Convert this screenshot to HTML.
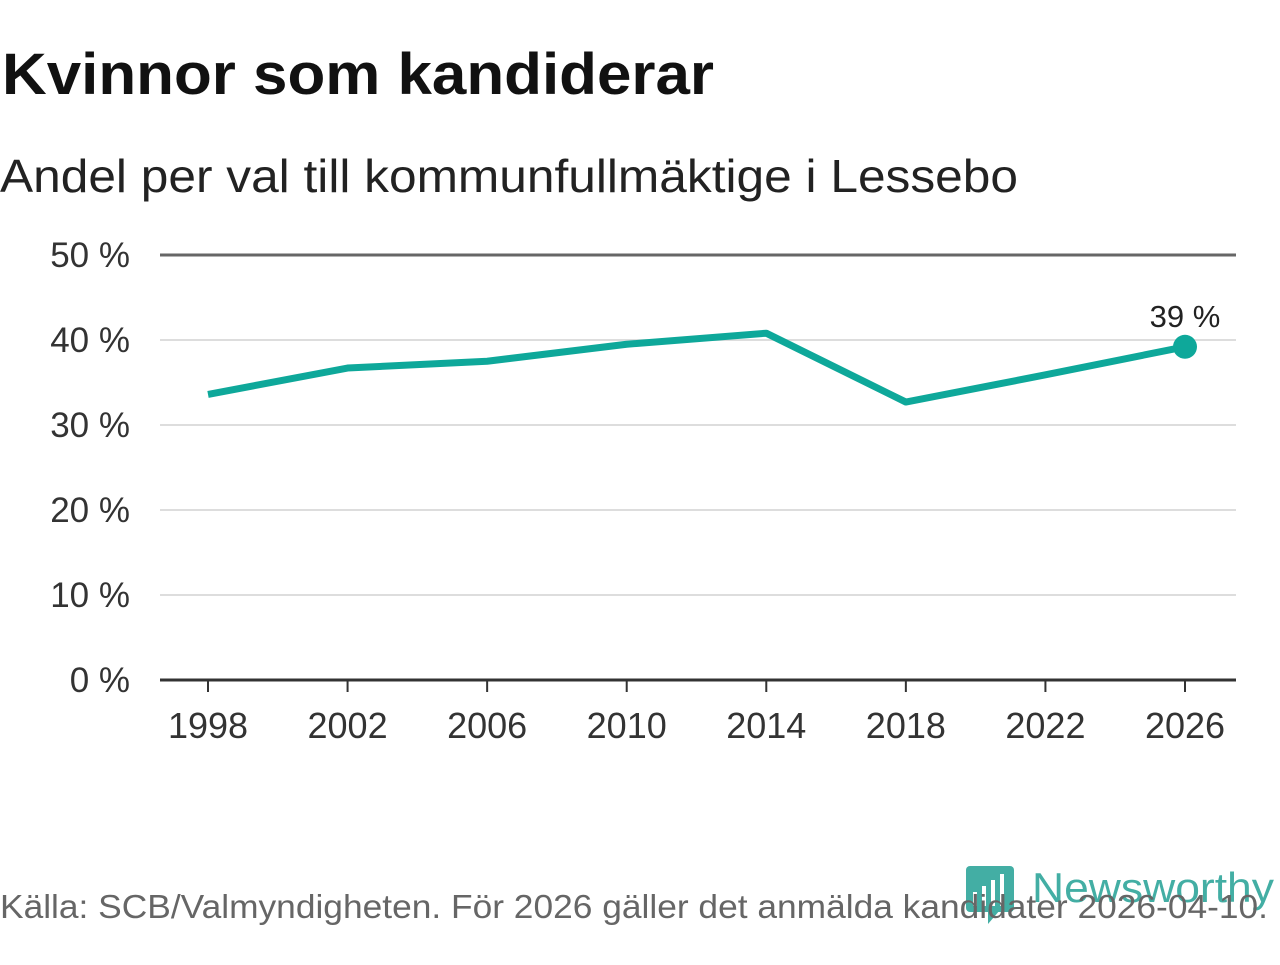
<!DOCTYPE html>
<html><head><meta charset="utf-8"><style>
body{margin:0;width:1280px;height:960px;background:#fff;font-family:"Liberation Sans",sans-serif;overflow:hidden}
</style></head><body>
<svg width="1280" height="960">
<text x="2" y="94" font-size="58" font-weight="bold" fill="#111" textLength="712" lengthAdjust="spacingAndGlyphs">Kvinnor som kandiderar</text>
<text x="0" y="192" font-size="46" fill="#222" textLength="1018" lengthAdjust="spacingAndGlyphs">Andel per val till kommunfullmäktige i Lessebo</text>
<g id="grid"></g>
<g id="xaxis"></g>
<g id="series"></g>
<g opacity="0.8">
<rect x="966" y="866" width="48" height="46" rx="4" fill="#159b8e"/>
<polygon points="988,910 1000,910 988,924" fill="#159b8e"/>
<rect x="973" y="892" width="4" height="14" fill="#fff"/><rect x="982" y="886" width="4" height="20" fill="#fff"/><rect x="991" y="880" width="4" height="26" fill="#fff"/><rect x="1000" y="874" width="4" height="32" fill="#fff"/>
<text x="1032" y="902" font-size="42" fill="#159b8e" textLength="242" lengthAdjust="spacingAndGlyphs">Newsworthy</text>
</g>
<text x="0" y="918" font-size="33" fill="#666" textLength="1268" lengthAdjust="spacingAndGlyphs">Källa: SCB/Valmyndigheten. För 2026 gäller det anmälda kandidater 2026-04-10.</text>
</svg>
<script>
const years=[1998,2002,2006,2010,2014,2018,2022,2026];
const values=[33.6,36.7,37.5,39.5,40.8,32.7,35.9,39.2];
const yTicks=[0,10,20,30,40,50];
const yTickLabels=["0 %","10 %","20 %","30 %","40 %","50 %"];
const ns="http://www.w3.org/2000/svg";
const xs=y=>208+(y-1998)/28*(1185-208);
const ys=v=>680-v*8.5;
function mk(t,a,p,txt){const e=document.createElementNS(ns,t);for(const k in a)e.setAttribute(k,a[k]);if(txt!=null)e.textContent=txt;p.appendChild(e);return e;}
const g=document.getElementById('grid');
yTicks.forEach((t,i)=>{
 const l=mk('line',{x1:160,x2:1236,y1:ys(t),y2:ys(t),stroke:t==0?'#333':(t==50?'#666':'#ddd'),'stroke-width':t==0?3:(t==50?3:2)},g);
 
 
 const tx=mk('text',{x:130,y:ys(t)+12,'font-size':35,fill:'#333','text-anchor':'end'},g,yTickLabels[i]);
 
 
});
const xa=document.getElementById('xaxis');
years.forEach(y=>{
 const l=mk('line',{x1:xs(y),x2:xs(y),y1:680,y2:692,stroke:'#333','stroke-width':2},xa);
 
 
 const t=mk('text',{x:xs(y),y:738,'font-size':36,fill:'#333','text-anchor':'middle'},xa,y);
 
 
});
const s=document.getElementById('series');
const pl=mk('polyline',{points:years.map((y,i)=>xs(y)+','+ys(values[i])).join(' '),fill:'none',stroke:'#0ea89a','stroke-width':7,'stroke-linejoin':'round'},s);


const n=years.length-1;
const c=mk('circle',{cx:xs(years[n]),cy:ys(values[n]),r:12,fill:'#0ea89a'},s);


const lb=mk('text',{x:xs(years[n]),y:ys(values[n])-20,'font-size':31,fill:'#222','text-anchor':'middle'},s,Math.round(values[n])+' %');


</script>
</body></html>
